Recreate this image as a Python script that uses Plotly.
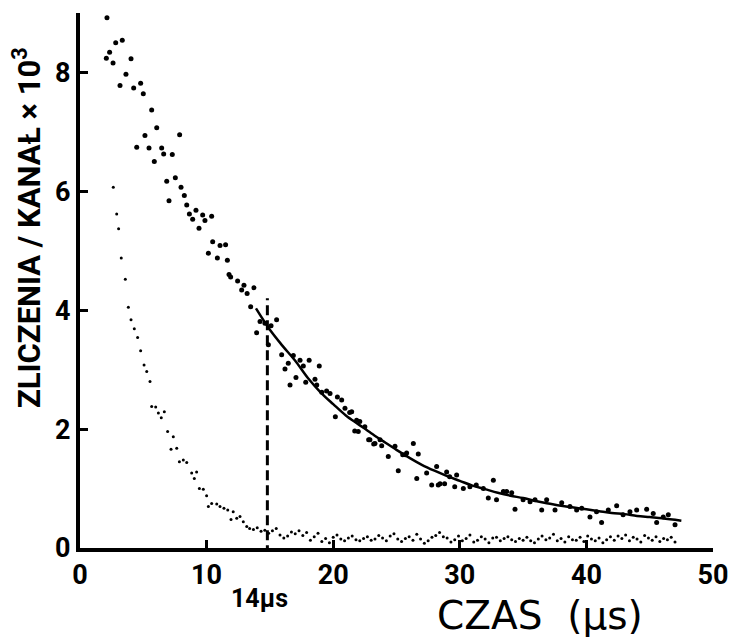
import plotly.graph_objects as go

# Upper series (large dots): time (us), counts/channel x 10^3
upper_x = [2.08, 2.13, 2.34, 2.61, 2.82, 3.16, 3.34, 3.63, 4.03, 4.24, 4.48, 4.79, 5.0, 5.13, 5.45,
           5.66, 5.87, 6.06, 6.45, 6.61, 6.85, 7.03, 7.29, 7.53, 7.87, 7.98, 8.24, 8.43, 8.64, 8.9,
           9.16, 9.4, 9.69, 9.87, 10.14, 10.4, 10.48, 10.85, 11.06, 11.5, 11.64, 11.77, 11.9, 12.45,
           12.77, 12.95, 13.2, 13.48, 13.74, 13.95, 14.22, 14.61, 14.88, 15.09, 15.53, 15.93, 16.19,
           16.45, 16.59, 16.85, 17.06, 17.38, 17.64, 17.83, 18.1, 18.56, 18.7, 18.9, 19.1, 19.48,
           19.75, 20.17, 20.33, 20.67, 20.93, 21.3, 21.46, 21.7, 21.85, 21.98, 22.1, 22.5, 22.8, 22.9,
           23.2, 23.3, 23.7, 23.83, 24.35, 24.88, 25.14, 25.49, 25.7, 25.8, 26.33, 26.6, 26.72, 27.38,
           27.78, 28.17, 28.3, 28.44, 28.8, 28.96, 29.2, 29.6, 29.75, 30.28, 30.8, 31.3, 31.86, 32.25,
           32.65, 32.9, 33.44, 33.7, 34.1, 34.36, 35.0, 35.55, 35.94, 36.47, 36.86, 37.52, 38.05, 38.7,
           39.23, 39.63, 40.28, 40.8, 41.2, 41.73, 42.39, 42.9, 43.44, 43.97, 44.76, 45.28, 45.55,
           46.07, 46.47, 47.0]
upper_y = [8.24, 8.92, 8.34, 8.16, 8.50, 7.78, 8.54, 7.97, 8.23, 7.74, 6.74, 7.82, 7.64, 6.94, 6.73,
           7.37, 6.50, 7.07, 6.73, 6.63, 6.17, 5.84, 6.62, 6.23, 6.95, 6.07, 5.93, 5.77, 5.62, 5.53,
           5.68, 5.38, 5.60, 5.51, 4.96, 5.58, 5.15, 4.88, 5.09, 5.10, 4.84, 4.60, 4.56, 4.49,
           4.34, 4.42, 4.28, 4.06, 4.38, 3.62, 3.81, 3.78, 3.42, 3.74, 3.84, 3.25, 3.01,
           3.11, 2.74, 3.24, 2.87, 3.16, 3.06, 2.79, 3.16, 2.84, 2.74, 3.06, 2.62, 2.64,
           2.60, 2.21, 2.54, 2.49, 2.35, 2.28, 2.29, 1.97, 2.15, 1.96, 2.13, 2.04, 1.82, 1.82,
           1.75, 1.76, 1.82, 1.72, 1.54, 1.71, 1.30, 1.57, 1.57, 1.60, 1.76, 1.17, 1.58, 1.26,
           1.06, 1.37, 1.06, 1.08, 1.08, 1.28, 1.20, 1.03, 1.23, 1.00, 1.03, 1.06, 1.00, 0.84,
           1.14, 0.81, 0.95, 0.95, 0.93, 0.65, 0.81, 0.78, 0.81, 0.64, 0.81, 0.64, 0.76, 0.70,
           0.64, 0.67, 0.52, 0.61, 0.43, 0.64, 0.71, 0.56, 0.61, 0.64, 0.65, 0.58, 0.43,
           0.52, 0.56, 0.39]

# Lower series (small dots)
lower_x = [2.63, 2.9, 3.05, 3.26, 3.58, 3.82, 4.03, 4.29, 4.55, 4.79, 5.06, 5.27, 5.53, 5.66, 5.98,
           6.19, 6.42, 6.66, 6.92, 7.19, 7.37, 7.64, 7.85, 8.16, 8.43, 8.82, 9.03, 9.21, 9.43, 9.74,
           10.0, 10.14, 10.4, 10.8, 11.06, 11.37, 11.67, 11.93, 12.1, 12.38, 12.64, 12.9, 13.17,
           13.4, 13.7, 14.0, 14.3, 14.6, 14.9, 15.2, 15.5, 15.8, 16.1, 16.4, 16.7, 17.0, 17.3, 17.6,
           17.9, 18.2, 18.5, 18.8, 19.1, 19.4, 19.7, 20.0, 20.3, 20.6, 20.9, 21.2, 21.5, 21.8, 22.1,
           22.4, 22.7, 23.0, 23.3, 23.6, 23.9, 24.2, 24.5, 24.8, 25.1, 25.4, 25.7, 26.0, 26.3, 26.6,
           26.9, 27.2, 27.5, 27.8, 28.1, 28.4, 28.7, 29.0, 29.3, 29.6, 29.9, 30.2, 30.5, 30.8, 31.1,
           31.4, 31.7, 32.0, 32.3, 32.6, 32.9, 33.2, 33.5, 33.8, 34.1, 34.4, 34.7, 35.0, 35.3, 35.6,
           35.9, 36.2, 36.5, 36.8, 37.1, 37.4, 37.7, 38.0, 38.3, 38.6, 38.9, 39.2, 39.5, 39.8, 40.1,
           40.4, 40.7, 41.0, 41.3, 41.6, 41.9, 42.2, 42.5, 42.8, 43.1, 43.4, 43.7, 44.0, 44.3, 44.6,
           44.9, 45.2, 45.5, 45.8, 46.1, 46.4, 46.7, 47.0]
lower_y = [6.07, 5.62, 5.37, 4.88, 4.52, 4.05, 3.84, 3.69, 3.54, 3.32, 3.08, 2.97, 2.80, 2.38, 2.37,
           2.27, 2.19, 2.29, 1.96, 1.66, 1.87, 1.68, 1.45, 1.48, 1.44, 1.26, 1.17, 1.28, 1.00, 0.99,
           0.88, 0.70, 0.75, 0.74, 0.70, 0.67, 0.64, 0.48, 0.61, 0.50, 0.53, 0.44, 0.36,
           0.33, 0.31, 0.34, 0.28, 0.30, 0.25, 0.29, 0.33, 0.22, 0.17, 0.20, 0.27, 0.24, 0.29, 0.21,
           0.26, 0.13, 0.19, 0.25, 0.11, 0.16, 0.09, 0.18, 0.22, 0.15, 0.12, 0.17, 0.20, 0.14, 0.12,
           0.16, 0.19, 0.13, 0.15, 0.21, 0.17, 0.12, 0.20, 0.24, 0.15, 0.11, 0.16, 0.19, 0.13, 0.23,
           0.15, 0.08, 0.12, 0.18, 0.21, 0.26, 0.19, 0.17, 0.10, 0.14, 0.20, 0.12, 0.16, 0.22, 0.10,
           0.13, 0.19, 0.15, 0.09, 0.17, 0.18, 0.12, 0.16, 0.19, 0.14, 0.11, 0.16, 0.13, 0.18, 0.12,
           0.09, 0.15, 0.20, 0.14, 0.17, 0.23, 0.12, 0.16, 0.10, 0.19, 0.14, 0.13, 0.18, 0.11, 0.20,
           0.15, 0.12, 0.17, 0.09, 0.14, 0.19, 0.13, 0.20, 0.16, 0.22, 0.12, 0.18, 0.15, 0.10, 0.21,
           0.17, 0.13, 0.19, 0.11, 0.16, 0.14, 0.18, 0.10]

# Fitted curve
fit_x = [13.9, 15, 16, 17, 18, 19, 20, 21, 22, 23, 24, 25, 26, 27, 28, 29, 30, 31, 32, 33, 34, 35,
         36, 37, 38, 39, 40, 41, 42, 43, 44, 45, 46, 47.5]
fit_y = [4.03, 3.67, 3.40, 3.15, 2.86, 2.62, 2.42, 2.23, 2.08, 1.93, 1.79, 1.65, 1.52, 1.40, 1.30,
         1.21, 1.13, 1.05, 0.99, 0.93, 0.88, 0.84, 0.79, 0.75, 0.71, 0.68, 0.65, 0.62, 0.59, 0.57,
         0.54, 0.52, 0.50, 0.46]

x_ticks = [0, 10, 20, 30, 40, 50]
y_ticks = [0, 2, 4, 6, 8]
cut_time = 14.8
cut_top = 4.2

fig = go.Figure()
fig.add_trace(go.Scatter(x=lower_x, y=lower_y, mode="markers",
                         marker=dict(color="black", size=3, symbol="circle"), hoverinfo="skip"))
fig.add_trace(go.Scatter(x=upper_x, y=upper_y, mode="markers",
                         marker=dict(color="black", size=5, symbol="circle"), hoverinfo="skip"))
fig.add_trace(go.Scatter(x=fit_x, y=fit_y, mode="lines", line=dict(color="black", width=2.5, shape="spline"),
                         hoverinfo="skip"))
fig.add_trace(go.Scatter(x=[cut_time, cut_time], y=[-0.12, cut_top], mode="lines",
                         line=dict(color="black", width=3, dash="10px,5px"), hoverinfo="skip"))

tick_font = dict(family="Roboto", size=27, color="black", weight="bold")
fig.update_layout(
    width=730, height=639,
    margin=dict(l=80, r=17, t=13, b=91),
    paper_bgcolor="white", plot_bgcolor="white",
    showlegend=False,
    xaxis=dict(range=[0, 50], tickvals=x_ticks, ticks="inside", ticklen=8, tickwidth=3, tickcolor="black",
               showline=True, linewidth=4, linecolor="black", showgrid=False, zeroline=False,
               tickfont=tick_font, automargin=False, ticklabelstandoff=0),
    yaxis=dict(range=[0, 9], tickvals=y_ticks, ticks="inside", ticklen=8, tickwidth=3, tickcolor="black",
               showline=True, linewidth=4, linecolor="black", showgrid=False, zeroline=False,
               tickfont=tick_font, automargin=False, ticklabelstandoff=0),
    annotations=[
        dict(text="ZLICZENIA / KANAŁ × 10<sup>3</sup>", textangle=-90, xref="paper", yref="paper",
             x=-0.0837, y=0.598, showarrow=False, xanchor="center", yanchor="middle",
             font=dict(family="Roboto", size=31, color="black", weight="bold")),
        dict(text="14μs", xref="x", yref="paper", x=14.14, y=-0.095, showarrow=False,
             xanchor="center", yanchor="middle",
             font=dict(family="Roboto", size=25, color="black", weight="bold")),
        dict(text="CZAS  (μs)", xref="x", yref="paper", x=36.3, y=-0.127, showarrow=False,
             xanchor="center", yanchor="middle",
             font=dict(family="DejaVu Sans", size=39, color="black")),
    ],
)

fig.write_html("out.html")
